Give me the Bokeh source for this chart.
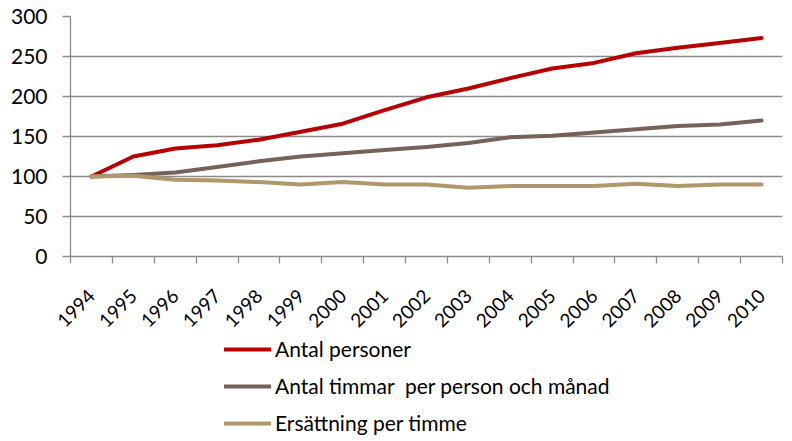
from math import pi
from bokeh.plotting import figure
from bokeh.layouts import column
from bokeh.models import Range1d, FixedTicker, Legend, LegendItem
from bokeh.embed import file_html
from bokeh.resources import INLINE

years = ["1994", "1995", "1996", "1997", "1998", "1999", "2000", "2001", "2002",
         "2003", "2004", "2005", "2006", "2007", "2008", "2009", "2010"]
antal_personer = [100, 125, 135, 139, 146, 156, 166, 183, 199, 210, 223, 235, 242, 254, 261, 267, 273]
antal_timmar = [100, 102, 105, 112, 119, 125, 129, 133, 137, 142, 149, 151, 155, 159, 163, 165, 170]
ersattning = [100, 101, 96, 95, 93, 90, 93, 90, 90, 86, 88, 88, 88, 91, 88, 90, 90]
y_ticks = [0, 50, 100, 150, 200, 250, 300]

names = ["Antal personer", "Antal timmar  per person och månad", "Ersättning per timme"]
colors = ["#B80000", "#76625A", "#B1976C"]
series = [antal_personer, antal_timmar, ersattning]

FONT = "Lato"
GRID = "#8C8C8C"
xs = list(range(len(years)))

MAIN_H = 336
LEG_H = 441 - MAIN_H

p = figure(width=792, height=MAIN_H, output_backend="svg", toolbar_location=None,
           x_range=Range1d(-0.5, len(years) - 0.5), y_range=Range1d(0, 300),
           min_border_left=70, min_border_right=10, min_border_top=16, min_border_bottom=79)
p.outline_line_color = None

for vals, c in zip(series, colors):
    p.line(xs, vals, line_color=c, line_width=4, line_cap="round", line_join="round")

# x axis: ticks between categories, labels at category centres
p.xaxis.ticker = FixedTicker(ticks=xs, minor_ticks=[i - 0.5 for i in range(len(years) + 1)])
p.xaxis.major_label_overrides = {i: y for i, y in enumerate(years)}
p.xaxis.major_label_orientation = pi / 4
p.xaxis.major_tick_out = 0
p.xaxis.major_tick_in = 0
p.xaxis.minor_tick_out = 7
p.xaxis.minor_tick_in = 0
p.xaxis.minor_tick_line_color = GRID
p.xaxis.minor_tick_line_width = 1.3
p.xaxis.axis_line_color = GRID
p.xaxis.axis_line_width = 1.3
p.xaxis.major_label_text_font = FONT
p.xaxis.major_label_text_font_size = "19px"
p.xaxis.major_label_text_color = "#000000"
p.xaxis.major_label_standoff = 29

# y axis
p.yaxis.ticker = FixedTicker(ticks=y_ticks)
p.yaxis.major_tick_out = 8
p.yaxis.major_tick_in = 0
p.yaxis.minor_tick_line_color = None
p.yaxis.major_tick_line_color = GRID
p.yaxis.major_tick_line_width = 1.3
p.yaxis.axis_line_color = GRID
p.yaxis.axis_line_width = 1.3
p.yaxis.major_label_text_font = FONT
p.yaxis.major_label_text_font_size = "21px"
p.yaxis.major_label_text_color = "#000000"
p.yaxis.major_label_standoff = 15

p.xgrid.grid_line_color = None
p.ygrid.grid_line_color = GRID
p.ygrid.grid_line_width = 1.3

# legend panel below the chart (its lines sit outside the visible range)
lg = figure(width=792, height=LEG_H, output_backend="svg", toolbar_location=None,
            x_axis_type=None, y_axis_type=None,
            x_range=Range1d(-0.5, len(years) - 0.5), y_range=Range1d(1000, 1001),
            min_border=0)
lg.outline_line_color = None
lg.xgrid.grid_line_color = None
lg.ygrid.grid_line_color = None
leg_renderers = [lg.line(xs, vals, line_color=c, line_width=4, line_cap="round")
                 for vals, c in zip(series, colors)]

legend = Legend(items=[LegendItem(label=n, renderers=[r]) for n, r in zip(names, leg_renderers)],
                orientation="vertical", location=(154, 6))
legend.border_line_color = None
legend.background_fill_alpha = 0
legend.label_text_font = FONT
legend.label_text_font_size = "21px"
legend.label_text_color = "#000000"
legend.glyph_width = 47
legend.glyph_height = 22
legend.label_height = 22
legend.label_standoff = 4
legend.spacing = 12
legend.padding = 0
legend.margin = 0
lg.add_layout(legend, "center")

open("out.html", "w").write(file_html(column(p, lg, spacing=0), INLINE))
